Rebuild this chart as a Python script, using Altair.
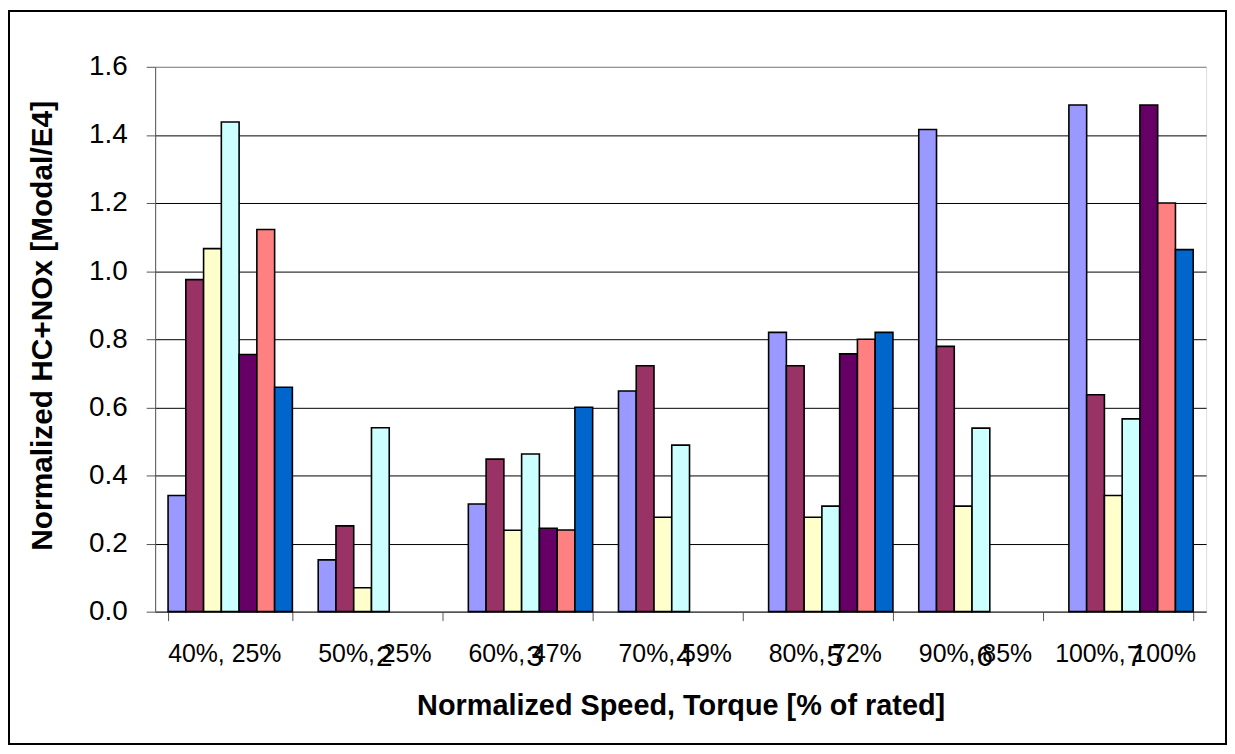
import altair as alt
import pandas as pd

groups = ["40%, 25%", "50%, 25%", "60%, 47%", "70%, 59%", "80%, 72%", "90%, 85%", "100%, 100%"]
group_numbers = ["", "2", "3", "4", "5", "6", "7"]
series = ["S1", "S2", "S3", "S4", "S5", "S6", "S7"]
colors = ["#9999FF", "#993366", "#FFFFCC", "#CCFFFF", "#660066", "#FF8080", "#0066CC"]

s1 = [0.341, 0.152, 0.316, 0.648, 0.820, 1.416, 1.488]
s2 = [0.975, 0.252, 0.448, 0.722, 0.722, 0.779, 0.637]
s3 = [1.066, 0.070, 0.239, 0.277, 0.277, 0.310, 0.341]
s4 = [1.438, 0.540, 0.463, 0.489, 0.310, 0.539, 0.566]
s5 = [0.755, None, 0.245, None, 0.757, None, 1.488]
s6 = [1.122, None, 0.240, None, 0.800, None, 1.200]
s7 = [0.659, None, 0.600, None, 0.820, None, 1.063]
y_ticks = [0.0, 0.2, 0.4, 0.6, 0.8, 1.0, 1.2, 1.4, 1.6]

rows = []
for name, vals in zip(series, [s1, s2, s3, s4, s5, s6, s7]):
    for g, v in zip(groups, vals):
        if v is not None:
            rows.append({"group": g, "series": name, "value": v})
df = pd.DataFrame(rows)
df_num = pd.DataFrame({"group": groups, "num": group_numbers})

W, H = 1057, 548
PL, PT, PR, PB = 148, 57, 21, 134
FONT = "Liberation Sans"
x_scale = alt.Scale(domain=groups, paddingInner=0.172, paddingOuter=0.086)

x_axis = alt.Axis(
    labelAngle=0, labelFontSize=25, labelFont=FONT, labelColor="black",
    tickBand="extent", tickSize=9, tickColor="#555", domainColor="#555",
    labelPadding=41, labelBaseline="alphabetic", labelOffset=-6,
    title="Normalized Speed, Torque [% of rated]", titleFont=FONT,
    titleFontSize=29, titleFontWeight="bold", titleColor="black",
    titleY=103, titleBaseline="alphabetic", grid=False)

bars = alt.Chart(df).mark_bar(stroke="black", strokeWidth=1.6).encode(
    x=alt.X("group:N", scale=x_scale, sort=groups, axis=x_axis),
    xOffset=alt.XOffset("series:N", scale=alt.Scale(domain=series, paddingInner=0, paddingOuter=0)),
    y=alt.Y("value:Q", scale=alt.Scale(domain=[0, 1.6], nice=False), axis=alt.Axis(
        values=y_ticks, format=".1f", labelFontSize=28, labelFont=FONT, labelColor="black",
        labelPadding=19, tickSize=9, tickColor="#555", domainColor="#555",
        gridColor={"condition": {"test": "datum.value >= 1.6", "value": "#808080"}, "value": "black"},
        gridWidth=1,
        title="Normalized HC+NOx [Modal/E4]", titleFont=FONT, titleFontSize=30,
        titleFontWeight="bold", titleColor="black", titleX=-104, titleY=260,
        titleBaseline="alphabetic", titleAlign="center")),
    color=alt.Color("series:N", scale=alt.Scale(domain=series, range=colors), legend=None),
)

nums = alt.Chart(df_num).mark_text(fontSize=30, font=FONT, baseline="alphabetic", color="black", dx=4).encode(
    x=alt.X("group:N", scale=x_scale, sort=groups, axis=x_axis),
    y=alt.value(603),
    text="num:N",
)

frame = alt.Chart(df_num).mark_rect(filled=False, stroke="black", strokeWidth=1.5).encode(
    x=alt.value(-PL + 1), x2=alt.value(W + PR - 1), y=alt.value(-PT + 1), y2=alt.value(H + PB - 1),
)

chart = alt.layer(bars, nums, frame).properties(
    width=W, height=H,
    padding={"left": PL, "top": PT, "right": PR, "bottom": PB},
    autosize=alt.AutoSizeParams(type="none"),
).configure_view(stroke="#808080", strokeWidth=1.5).configure(background="white")

chart.save("out.html", embed_options={"renderer": "svg", "actions": False})
